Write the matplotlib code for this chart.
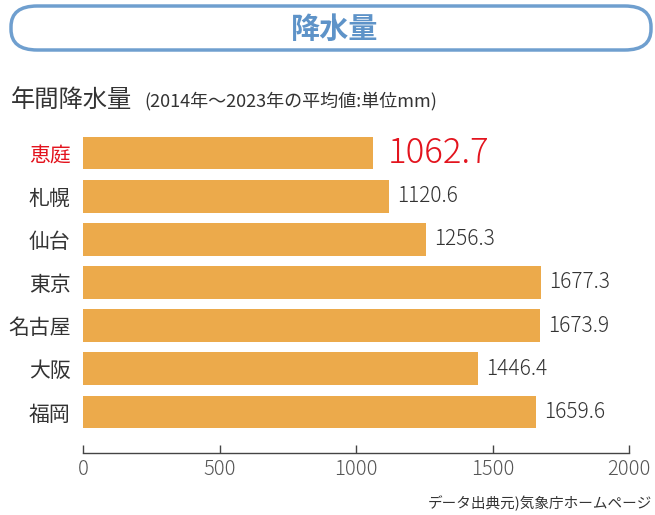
import matplotlib
matplotlib.use("Agg")
import matplotlib.pyplot as plt
from matplotlib.patches import FancyBboxPatch

plt.rcParams['font.family'] = ['Noto Sans CJK JP', 'DejaVu Sans']

# Data: 年間降水量 (2014-2023 average, mm)
cities = ["恵庭", "札幌", "仙台", "東京", "名古屋", "大阪", "福岡"]
rainfall = [1062.7, 1120.6, 1256.3, 1677.3, 1673.9, 1446.4, 1659.6]
xticks = [0, 500, 1000, 1500, 2000]

bar_color = "#ecaa4b"
red = "#e3141e"
text_gray = "#333333"

fig = plt.figure(figsize=(6.55, 5.15), dpi=100)

# title box
fig.patches.append(FancyBboxPatch(
    (11/655, 1 - 50/515), 640/655, 44/515,
    boxstyle="round,pad=0,rounding_size=0.04",
    transform=fig.transFigure, facecolor="white",
    edgecolor="#6f9fcf", linewidth=2.5))
fig.text(335/655, 1 - 29/515, "降水量", ha="center", va="center",
         fontsize=21, fontweight="bold", color="#5e93c8")

fig.text(11/655, 1 - 100/515, "年間降水量", ha="left", va="center",
         fontsize=17.5, color=text_gray)
fig.text(144/655, 1 - 101/515, "(2014年〜2023年の平均値:単位mm)",
         ha="left", va="center", fontsize=13, color=text_gray)

ax = fig.add_axes([83/655, 62/515, 546/655, 323/515])
y = list(range(len(cities)))
ax.barh(y, rainfall, height=0.76, color=bar_color)
ax.set_ylim(6.949, -0.532)
ax.set_xlim(0, 2000)

for i, v in enumerate(rainfall):
    if i == 0:
        ax.text(v + 55, i, f"{v:.1f}", va="center", ha="left",
                fontsize=25, color=red, fontweight="light")
    else:
        ax.text(v + 30, i, f"{v:.1f}", va="center", ha="left",
                fontsize=15, color=text_gray, fontweight="light")

ax.set_yticks(y)
ax.set_yticklabels(cities, fontsize=15, color=text_gray)
ax.get_yticklabels()[0].set_color(red)
ax.tick_params(axis="y", length=0, pad=9)

ax.set_xticks(xticks)
ax.set_xticklabels([str(t) for t in xticks], fontsize=14.5, color="#555555",
                   fontweight="light")
ax.tick_params(axis="x", direction="in", length=6, width=1, color="#444444",
               pad=4)

for side in ["top", "right", "left"]:
    ax.spines[side].set_visible(False)
ax.spines["bottom"].set_color("#444444")
ax.spines["bottom"].set_linewidth(1)

fig.text(652/655, 1 - 503/515, "データ出典元)気象庁ホームページ", ha="right",
         va="center", fontsize=10.5, color=text_gray)

fig.savefig("out.png", dpi=100)
